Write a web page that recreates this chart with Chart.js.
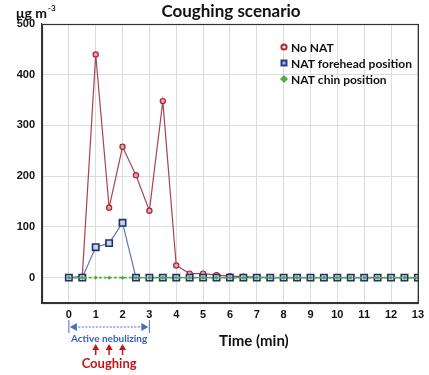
<!DOCTYPE html>
<html><head><meta charset="utf-8">
<script src="https://cdn.jsdelivr.net/npm/chart.js@4/dist/chart.umd.min.js"></script>
<style>html,body{margin:0;padding:0;background:#fff}#wrap{width:429px;height:375px}</style>
</head><body><div id="wrap"><canvas id="c" width="429" height="375"></canvas></div>
<script>
const times = [0,0.5,1,1.5,2,2.5,3,3.5,4,4.5,5,5.5,6,6.5,7,7.5,8,8.5,9,9.5,10,10.5,11,11.5,12,12.5,13];
const noNat =    [0,2,440,138,258,202,132,348,24,8,8,5,3,2,1,0,0,0,0,0,0,0,0,0,0,0,0];
const forehead = [0,0,60,68,108,0,0,0,0,0,0,0,0,0,0,0,0,0,0,0,0,0,0,0,0,0,0];
const chin =     [0,0,0,0,0,0,0,0,0,0,0,0,0,0,0,0,0,0,0,0,0,0,0,0,0,0,0];
const seriesNames = ['No NAT','NAT forehead position','NAT chin position'];
const titleText = 'Coughing scenario';
const yUnit = 'μg m';
const yUnitSup = '-3';
const xTitle = 'Time (min)';
const activeLabel = 'Active nebulizing';
const activeRange = [0,3];
const coughTimes = [1,1.5,2];
const coughLabel = 'Coughing';

const pts = arr => arr.map((v,i)=>({x:times[i],y:v}));
const FONT = '"Liberation Sans", Arial, sans-serif';
const TFONT = 'Lato, "Open Sans", sans-serif';

const annot = {
  id:'annot',
  afterDraw(chart){
    const {ctx, scales:{x,y}, chartArea:a} = chart;
    ctx.save();
    // frame
    ctx.strokeStyle='#333'; ctx.lineWidth=1.2;
    ctx.strokeRect(a.left+0.5,a.top+0.5,a.right-a.left,a.bottom-a.top);
    // title
    ctx.fillStyle='#111'; ctx.textAlign='center'; ctx.textBaseline='middle';
    ctx.font='bold 17px '+TFONT;
    ctx.fillText(titleText, 231, 12);
    // unit
    ctx.textAlign='left';
    ctx.font='bold 14px '+TFONT;
    ctx.fillText(yUnit, 16, 13);
    const w = ctx.measureText(yUnit).width;
    ctx.font='bold 8px '+TFONT;
    ctx.fillText(yUnitSup, 16+w+1, 8);
    // x title
    ctx.font='bold 15px '+TFONT;
    ctx.fillText(xTitle, 219, 341);
    // active nebulizing arrow
    const x0 = x.getPixelForValue(activeRange[0]), x1 = x.getPixelForValue(activeRange[1]);
    const ay = 327;
    ctx.strokeStyle='#4a6cc8'; ctx.fillStyle='#4a6cc8'; ctx.lineWidth=1;
    ctx.setLineDash([2,1.5]);
    ctx.beginPath(); ctx.moveTo(x0+6,ay); ctx.lineTo(x1-6,ay); ctx.stroke();
    ctx.setLineDash([]);
    ctx.beginPath(); ctx.moveTo(x0,ay-7); ctx.lineTo(x0,ay+6); ctx.moveTo(x1,ay-7); ctx.lineTo(x1,ay+6); ctx.stroke();
    ctx.beginPath(); ctx.moveTo(x0+1,ay); ctx.lineTo(x0+8,ay-4); ctx.lineTo(x0+8,ay+4); ctx.closePath(); ctx.fill();
    ctx.beginPath(); ctx.moveTo(x1-1,ay); ctx.lineTo(x1-8,ay-4); ctx.lineTo(x1-8,ay+4); ctx.closePath(); ctx.fill();
    ctx.font='bold 10px '+TFONT; ctx.textAlign='center';
    ctx.fillStyle='#3a5cc0';
    ctx.fillText(activeLabel, (x0+x1)/2, 339);
    // cough arrows
    ctx.fillStyle='#c01818'; ctx.strokeStyle='#c01818'; ctx.lineWidth=1.5;
    coughTimes.forEach(t=>{
      const cx = x.getPixelForValue(t);
      ctx.beginPath(); ctx.moveTo(cx,355); ctx.lineTo(cx,348); ctx.stroke();
      ctx.beginPath(); ctx.moveTo(cx,344); ctx.lineTo(cx-3.5,350); ctx.lineTo(cx+3.5,350); ctx.closePath(); ctx.fill();
    });
    ctx.font='bold 13px '+TFONT;
    ctx.fillText(coughLabel, (x0+x1)/2, 364);
    // legend
    const lx = 284, ly = [47,63,79];
    ctx.textAlign='left'; ctx.font='bold 12px '+TFONT; ctx.fillStyle='#111';
    chart.data.datasets.forEach((ds,i)=>{
      const yy = ly[i];
      ctx.save();
      if(i===0){ ctx.strokeStyle='#c0202a'; ctx.lineWidth=2; ctx.beginPath(); ctx.arc(lx,yy,2.6,0,Math.PI*2); ctx.stroke(); }
      if(i===1){ ctx.fillStyle='#2a3c8c'; ctx.fillRect(lx-3.5,yy-3.5,7,7); ctx.fillStyle='#9fb0e0'; ctx.fillRect(lx-1.5,yy-1.5,3,3); }
      if(i===2){ ctx.fillStyle='#4caf50'; ctx.beginPath(); ctx.moveTo(lx,yy-4); ctx.lineTo(lx+4,yy); ctx.lineTo(lx,yy+4); ctx.lineTo(lx-4,yy); ctx.closePath(); ctx.fill(); }
      ctx.restore();
      ctx.fillStyle='#111';
      ctx.fillText(ds.label, lx+7, yy+1);
    });
    ctx.restore();
  }
};

new Chart(document.getElementById('c'), {
  type:'line',
  data:{datasets:[
    {label:seriesNames[0], data:pts(noNat), borderColor:'#a84450', borderWidth:1.2, pointStyle:'circle', pointRadius:2.6, pointBorderColor:'#a02838', pointBorderWidth:1.2, pointBackgroundColor:'#e8a0a8', order:3, tension:0},
    {label:seriesNames[1], data:pts(forehead), borderColor:'#6076b0', borderWidth:1.2, pointStyle:'rect', pointRadius:4.5, pointBorderColor:'#22306e', pointBorderWidth:1.6, pointBackgroundColor:'#c8d2ee', order:2, tension:0},
    {label:seriesNames[2], data:pts(chin), borderColor:'#58b838', borderWidth:1.6, borderDash:[3,2], pointStyle:'rectRot', pointRadius:2, pointBorderWidth:0, pointBackgroundColor:'#4aa83a', order:1, tension:0}
  ]},
  options:{
    responsive:false, animation:false,
    layout:{padding:{top:24,right:9,left:0,bottom:0}},
    plugins:{legend:{display:false}, title:{display:false}, tooltip:{enabled:false}},
    scales:{
      x:{type:'linear', min:-1, max:13,
        afterFit(s){ s.height=72; },
        border:{display:true,color:'#333',width:1.2},
        grid:{color:'#dcdcdc', drawTicks:false, lineWidth:1},
        ticks:{stepSize:1, padding:5, color:'#111', font:{family:FONT, weight:'bold', size:11},
          callback:v=> v<0 ? '' : String(v)}},
      y:{type:'linear', min:-50, max:500,
        afterFit(s){ s.width=42; },
        border:{display:true,color:'#333',width:1.2},
        grid:{color:ctx=> ctx.tick && ctx.tick.value<0 ? 'rgba(0,0,0,0)' : '#dcdcdc', drawTicks:false},
        ticks:{stepSize:100, padding:7, color:'#111', font:{family:FONT, weight:'bold', size:11},
          callback:v=> v<0 ? '' : String(v)}}
    }
  },
  plugins:[annot]
});
</script></body></html>
